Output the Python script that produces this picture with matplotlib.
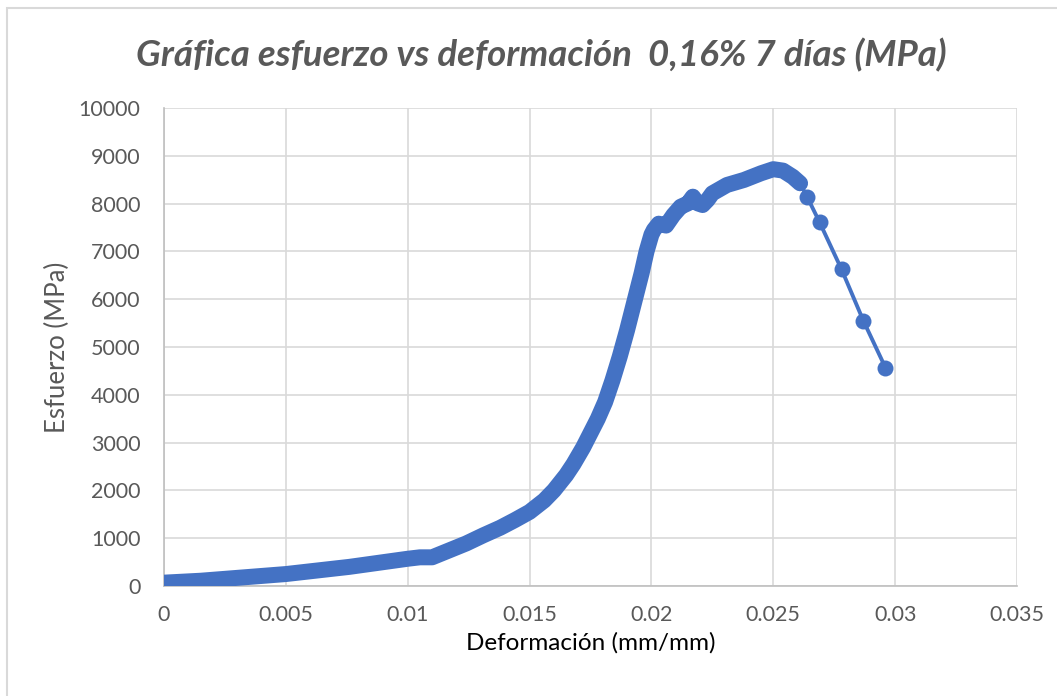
import matplotlib
matplotlib.use('Agg')
import matplotlib.pyplot as plt
from matplotlib.patches import Rectangle

# curva de ensayo (tramo denso de lecturas)
deformacion = [0.0000, 0.0015, 0.0030, 0.0050, 0.0076, 0.0100, 0.0105, 0.0110,
               0.0124, 0.0131, 0.0138, 0.0144, 0.0150, 0.0153, 0.0156, 0.0160,
               0.0165, 0.0168, 0.0172, 0.0175, 0.0178, 0.0181, 0.0184, 0.0187,
               0.0190, 0.0193, 0.0196, 0.0198, 0.0200, 0.0201, 0.0203, 0.0206,
               0.0209, 0.0212, 0.0215, 0.0217, 0.0219, 0.0221, 0.0223, 0.0225,
               0.0231, 0.0238, 0.0245, 0.0250, 0.0254, 0.0258, 0.0261]
esfuerzo = [70, 110, 170, 250, 400, 570, 600, 600,
            890, 1060, 1220, 1380, 1550, 1670, 1790, 2000,
            2320, 2550, 2900, 3200, 3500, 3850, 4300, 4800,
            5350, 5950, 6550, 7000, 7350, 7450, 7580, 7540,
            7760, 7935, 8005, 8145, 8005, 7970, 8075, 8215,
            8390, 8495, 8635, 8720, 8690, 8560, 8425]

# lecturas finales tras la rotura
deformacion_fin = [0.0264, 0.0269, 0.0278, 0.0287, 0.0296]
esfuerzo_fin = [8130, 7610, 6625, 5545, 4570]

xticks = [0, 0.005, 0.01, 0.015, 0.02, 0.025, 0.03, 0.035]
xticklabels = ['0', '0.005', '0.01', '0.015', '0.02', '0.025', '0.03', '0.035']
yticks = list(range(0, 10001, 1000))

azul = '#4472C4'
gris = '#595959'

plt.rcParams['font.family'] = ['Lato', 'DejaVu Sans']

fig = plt.figure(figsize=(10.57, 6.96), dpi=100)
ax = fig.add_axes([164/1057, 1 - 586/696, (1017-164)/1057, (586-108)/696])

# marco del grafico
fig.patches.append(Rectangle((7/1057, -0.1), 1.2, 1 - 8/696 + 0.1, transform=fig.transFigure,
                             fill=False, edgecolor='#d9d9d9', linewidth=1.5))

ms = 11.5
ax.plot(deformacion, esfuerzo, color=azul, lw=ms, solid_capstyle='round',
        solid_joinstyle='round', zorder=3)
ax.plot([deformacion[-1]] + deformacion_fin, [esfuerzo[-1]] + esfuerzo_fin,
        color=azul, lw=2.8, zorder=3)
ax.plot(deformacion_fin, esfuerzo_fin, 'o', color=azul, ms=ms, mew=0, zorder=4)

ax.set_xlim(0, 0.035)
ax.set_ylim(0, 10000)
ax.set_xticks(xticks)
ax.set_xticklabels(xticklabels)
ax.set_yticks(yticks)
ax.tick_params(length=0, labelsize=15.5, labelcolor=gris)
ax.tick_params(axis='y', pad=17)
ax.tick_params(axis='x', pad=14)
ax.grid(True, color='#d9d9d9', lw=1.2)
ax.set_axisbelow(True)
for s in ['top', 'right']:
    ax.spines[s].set_visible(False)
for s in ['left', 'bottom']:
    ax.spines[s].set_color('#bfbfbf')
    ax.spines[s].set_linewidth(1.2)

ax.set_xlabel('Deformación (mm/mm)', fontsize=17.5, color='black', labelpad=5)
ax.set_ylabel('Esfuerzo (MPa)', fontsize=18.5, color=gris, labelpad=6)

fig.text(541/1057, 1 - 55/696, 'Gráfica esfuerzo vs deformación  0,16% 7 días (MPa)',
         fontsize=26.4, style='italic', weight='bold', color=gris, ha='center', va='center')

fig.savefig('out.png', dpi=100)
